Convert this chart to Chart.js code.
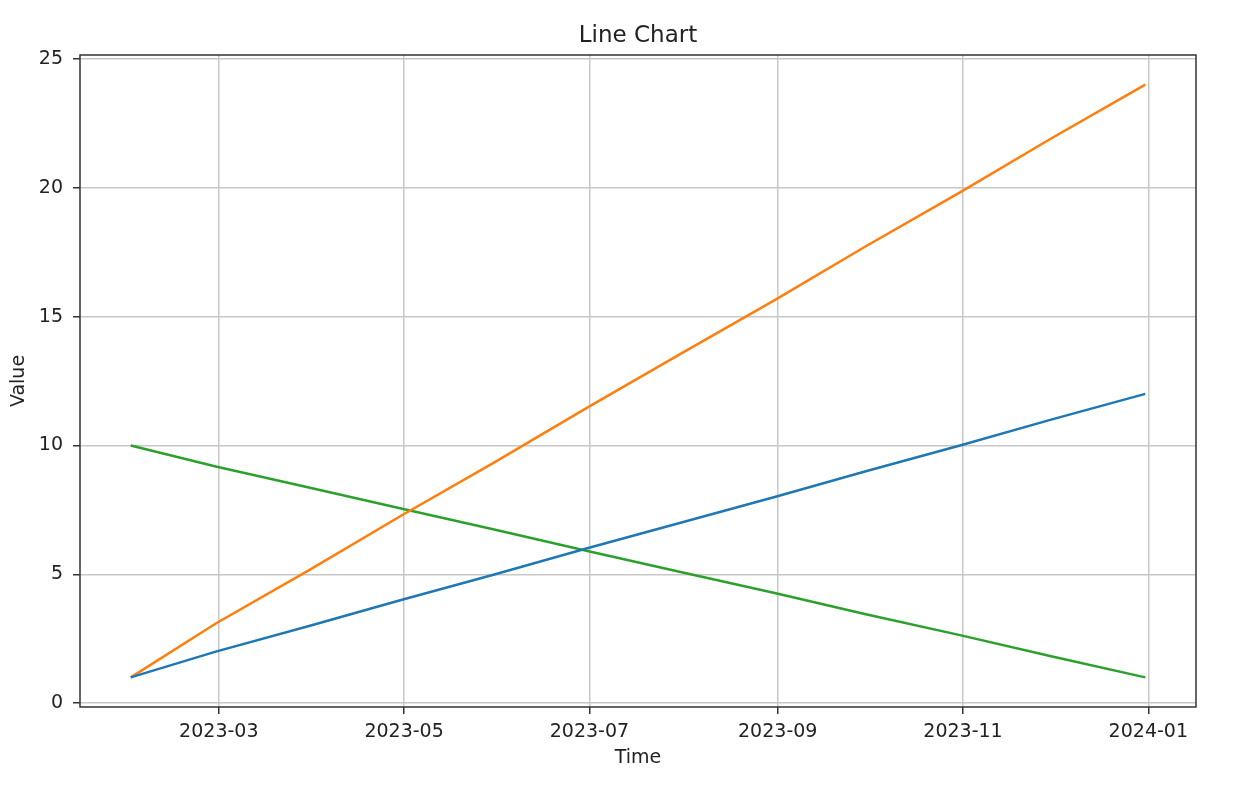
<!DOCTYPE html>
<html>
<head>
<meta charset="utf-8">
<script src="https://cdn.jsdelivr.net/npm/chart.js@4/dist/chart.umd.min.js"></script>
<style>
  body { margin: 0; background: #fff; }
  canvas { display: block; }
</style>
</head>
<body>
<canvas id="lineChart" width="1258" height="786"></canvas>
<script>
// month-end dates, one point per month
const dates = ['2023-01-31', '2023-02-28', '2023-03-31', '2023-04-30', '2023-05-31', '2023-06-30',
               '2023-07-31', '2023-08-31', '2023-09-30', '2023-10-31', '2023-11-30', '2023-12-31'];
const seriesA = [1, 2, 3, 4, 5, 6, 7, 8, 9, 10, 11, 12];
const seriesB = [1, 3.09, 5.18, 7.27, 9.36, 11.45, 13.55, 15.64, 17.73, 19.82, 21.91, 24];
const seriesC = [10, 9.18, 8.36, 7.55, 6.73, 5.91, 5.09, 4.27, 3.45, 2.64, 1.82, 1];
const xTickLabels = ['2023-03', '2023-05', '2023-07', '2023-09', '2023-11', '2024-01'];
const yTickValues = [0, 5, 10, 15, 20, 25];

const times = dates.map(d => Date.parse(d));
const toPoints = vals => vals.map((v, i) => ({ x: times[i], y: v }));

// matplotlib-like 5% margins
const xSpan = times[times.length - 1] - times[0];
const xMin = times[0] - xSpan * 0.05;
const xMax = times[times.length - 1] + xSpan * 0.05;

const font = 'DejaVu Sans';
const gridColor = '#c8c8c8';
const axisColor = '#333333';

const frame = {
    id: 'frame',
    afterDraw(chart) {
        const a = chart.chartArea;
        const c = chart.ctx;
        c.save();
        c.strokeStyle = axisColor;
        c.lineWidth = 1.5;
        c.strokeRect(a.left, a.top, a.right - a.left, a.bottom - a.top);
        c.restore();
    }
};

const myChart = new Chart(document.getElementById('lineChart').getContext('2d'), {
    type: 'line',
    data: {
        datasets: [
            { label: 'A', data: toPoints(seriesA), borderColor: '#1f77b4', borderWidth: 2.5 },
            { label: 'B', data: toPoints(seriesB), borderColor: '#ff7f0e', borderWidth: 2.5 },
            { label: 'C', data: toPoints(seriesC), borderColor: '#2ca02c', borderWidth: 2.5 },
        ],
    },
    options: {
        responsive: false,
        animation: false,
        devicePixelRatio: 1,
        layout: { padding: { left: 0, right: 62, top: 0, bottom: 0 } },
        elements: { point: { radius: 0 }, line: { tension: 0 } },
        plugins: {
            legend: { display: false },
            tooltip: { enabled: false },
            title: {
                display: true,
                fullSize: false,
                text: 'Line Chart',
                color: '#222',
                font: { family: font, size: 23, weight: 'normal' },
                padding: { top: 22, bottom: 5.4 },
            },
        },
        scales: {
            x: {
                type: 'linear',
                min: xMin,
                max: xMax,
                afterBuildTicks: s => { s.ticks = xTickLabels.map(l => ({ value: Date.parse(l + '-01') })); },
                afterFit: s => { s.height = 79; },
                ticks: {
                    color: '#222',
                    padding: 6.5,
                    maxRotation: 0,
                    font: { family: font, size: 19 },
                    callback: (v, i) => xTickLabels[i],
                },
                grid: { color: gridColor, lineWidth: 1.5, tickLength: 7, tickColor: axisColor, tickWidth: 1.5 },
                border: { display: false },
                title: {
                    display: true, text: 'Time', color: '#222',
                    font: { family: font, size: 19 },
                    padding: { top: 0, bottom: 17 },
                },
            },
            y: {
                min: -0.15,
                max: 25.15,
                afterBuildTicks: s => { s.ticks = yTickValues.map(v => ({ value: v })); },
                afterFit: s => { s.width = 80; },
                ticks: {
                    color: '#222',
                    padding: 10,
                    font: { family: font, size: 19 },
                },
                grid: { color: gridColor, lineWidth: 1.5, tickLength: 7, tickColor: axisColor, tickWidth: 1.5 },
                border: { display: false },
                title: {
                    display: true, text: 'Value', color: '#222',
                    font: { family: font, size: 19 },
                    padding: { top: 8, bottom: 0 },
                },
            },
        },
    },
    plugins: [frame],
});
</script>
</body>
</html>
